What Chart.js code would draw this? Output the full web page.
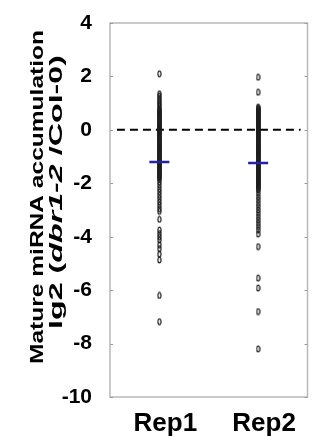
<!DOCTYPE html>
<html>
<head>
<meta charset="utf-8">
<script src="https://cdn.jsdelivr.net/npm/chart.js@4/dist/chart.umd.min.js"></script>
<style>
  html, body { margin: 0; padding: 0; background: #fff; }
  #wrap { width: 320px; height: 436px; }
</style>
</head>
<body>
<div id="wrap"><canvas id="chart" width="320" height="436"></canvas></div>
<script>
const categories = ["Rep1", "Rep2"];
const xTickValues = [1, 2];
const yTicks = [4, 2, 0, -2, -4, -6, -8, -10];

// log2 fold change per miRNA
const rep1Values = [
  2.1,
  1.35, 1.27, 1.18, 1.1, 1.02, 0.95, 0.88, 0.8, 0.75,
  0.71, 0.67, 0.63, 0.59, 0.55, 0.51, 0.47, 0.43, 0.39, 0.35, 0.31, 0.27,
  0.23, 0.19, 0.15, 0.11, 0.07, 0.03, 0.0, -0.04, -0.08, -0.12, -0.16,
  -0.2, -0.24, -0.28, -0.32, -0.36, -0.4, -0.44, -0.48, -0.52, -0.56,
  -0.6, -0.64, -0.68, -0.72, -0.76, -0.8, -0.84, -0.88, -0.92, -0.96,
  -1.0, -1.04, -1.08, -1.12, -1.16, -1.2, -1.24, -1.28, -1.32, -1.36,
  -1.4, -1.44, -1.48, -1.52, -1.56, -1.6, -1.64, -1.68, -1.72, -1.76,
  -1.8, -1.85,
  -1.95, -2.07, -2.2, -2.32, -2.45, -2.57, -2.7, -2.82, -2.95, -3.05,
  -3.35, -3.75, -3.88, -4.0, -4.12, -4.3, -4.45, -4.65, -4.87,
  -6.2, -7.18
];
const rep2Values = [
  1.97, 1.41,
  0.85, 0.81, 0.77, 0.73, 0.69, 0.65, 0.61, 0.57, 0.53, 0.49, 0.45, 0.41,
  0.37, 0.33, 0.29, 0.25, 0.21, 0.17, 0.13, 0.09, 0.05, 0.01, -0.03,
  -0.07, -0.11, -0.15, -0.19, -0.23, -0.27, -0.31, -0.35, -0.39, -0.43,
  -0.47, -0.51, -0.55, -0.59, -0.63, -0.67, -0.71, -0.75, -0.79, -0.83,
  -0.87, -0.91, -0.95, -0.99, -1.03, -1.07, -1.11, -1.15, -1.19, -1.23,
  -1.27, -1.31, -1.35, -1.39, -1.43, -1.47, -1.51, -1.55, -1.59, -1.63,
  -1.67, -1.71, -1.75, -1.79, -1.83, -1.87, -1.91, -1.95, -1.99, -2.03,
  -2.07, -2.11, -2.15, -2.2, -2.25,
  -2.37, -2.5, -2.62, -2.75, -2.87, -3.0, -3.12, -3.25, -3.37, -3.5,
  -3.62, -3.75, -3.9,
  -4.37, -5.55, -5.92, -6.8, -8.2
];
const meanValues = [-1.2, -1.24];
const refLineX = [0.57, 2.43];
const refLineY = [0, 0];

const FONT = "'Liberation Sans', Arial, Helvetica, sans-serif";

// small open ellipse used as the marker
const marker = document.createElement("canvas");
marker.width = 5;
marker.height = 8;
(function () {
  const m = marker.getContext("2d");
  m.strokeStyle = "#1e1e1e";
  m.lineWidth = 1.2;
  m.beginPath();
  m.ellipse(2.5, 4, 1.5, 2.9, 0, 0, Math.PI * 2);
  m.stroke();
})();

const framePlugin = {
  id: "frame",
  afterDraw(chart) {
    const c = chart.ctx;
    const a = chart.chartArea;
    const y = chart.scales.y;
    c.save();
    c.strokeStyle = "#b8b8b8";
    c.lineWidth = 1.5;
    c.strokeRect(a.left, a.top, a.right - a.left, a.bottom - a.top);
    c.strokeStyle = "#9a9a9a";
    c.lineWidth = 1;
    yTicks.forEach(v => {
      const py = Math.round(y.getPixelForValue(v)) + 0.5;
      c.beginPath();
      c.moveTo(a.left, py); c.lineTo(a.left + 3, py);
      c.moveTo(a.right, py); c.lineTo(a.right - 3, py);
      c.stroke();
    });
    c.restore();
  }
};

// two-line rotated y title, middle part italic
const titlePlugin = {
  id: "ytitle",
  afterDraw(chart) {
    const c = chart.ctx;
    c.save();
    c.fillStyle = "#000";
    c.textBaseline = "alphabetic";

    // line 1
    c.font = "bold 19px " + FONT;
    const t1 = "Mature miRNA accumulation";
    const w1 = c.measureText(t1).width;
    c.save();
    c.translate(43, 197);
    c.rotate(-Math.PI / 2);
    c.scale(334 / w1, 1);
    c.textAlign = "center";
    c.fillText(t1, 0, 0);
    c.restore();

    // line 2
    const parts = [
      ["lg2 (", "bold 18px " + FONT],
      ["dbr1-2", "italic bold 18px " + FONT],
      [" /Col-0)", "bold 18px " + FONT]
    ];
    let total = 0;
    const widths = parts.map(p => { c.font = p[1]; const w = c.measureText(p[0]).width; total += w; return w; });
    c.save();
    c.translate(62, 192);
    c.rotate(-Math.PI / 2);
    c.scale(274 / total, 1);
    c.textAlign = "left";
    let x = -total / 2;
    parts.forEach((p, i) => { c.font = p[1]; c.fillText(p[0], x, 0); x += widths[i]; });
    c.restore();

    c.restore();
  }
};

new Chart(document.getElementById("chart").getContext("2d"), {
  type: "scatter",
  data: {
    datasets: [
      {
        type: "line",
        data: refLineX.map((x, i) => ({ x: x, y: refLineY[i] })),
        borderColor: "#000",
        borderWidth: 2,
        borderDash: [8, 5],
        pointRadius: 0,
        order: 3
      },
      {
        data: rep1Values.map(v => ({ x: xTickValues[0], y: v })),
        pointStyle: marker,
        order: 2
      },
      {
        data: rep2Values.map(v => ({ x: xTickValues[1], y: v })),
        pointStyle: marker,
        order: 2
      },
      {
        data: meanValues.map((v, i) => ({ x: xTickValues[i], y: v })),
        pointStyle: "line",
        pointRadius: 10,
        borderColor: "#2323a8",
        borderWidth: 2.5,
        order: 1
      }
    ]
  },
  options: {
    responsive: false,
    animation: false,
    events: [],
    layout: { padding: { top: 23, right: 8, left: 0, bottom: 0 } },
    plugins: { legend: { display: false }, tooltip: { enabled: false } },
    scales: {
      x: {
        type: "linear",
        min: 0.5,
        max: 2.5,
        afterBuildTicks: s => { s.ticks = xTickValues.map(v => ({ value: v })); },
        afterFit: s => { s.height = 39; },
        grid: { display: false },
        border: { display: false },
        ticks: {
          callback: v => categories[xTickValues.indexOf(v)],
          color: "#000",
          font: { family: FONT, size: 26, weight: "bold" },
          padding: 3,
          labelOffset: 6,
          maxRotation: 0
        }
      },
      y: {
        min: -10,
        max: 4,
        afterBuildTicks: s => { s.ticks = yTicks.map(v => ({ value: v })); },
        afterFit: s => { s.width = 110; },
        grid: { display: false },
        border: { display: false },
        ticks: {
          color: "#000",
          font: { family: FONT, size: 21, weight: "bold" },
          padding: 10
        }
      }
    }
  },
  plugins: [framePlugin, titlePlugin]
});
</script>
</body>
</html>
